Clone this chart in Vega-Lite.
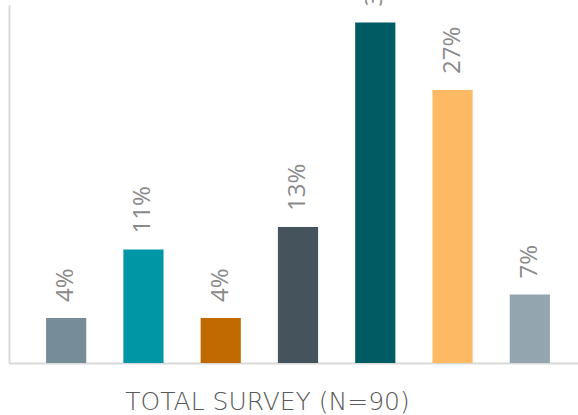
{
  "$schema": "https://vega.github.io/schema/vega-lite/v6.json",
  "width": 578,
  "height": 358,
  "autosize": {"type": "none"},
  "padding": {"left": 9, "top": 5, "right": 0, "bottom": 52},
  "background": "white",
  "config": {"view": {"stroke": null}},
  "data": {
    "values": [
      {"category": "Group 1", "share": 0.044, "color": "#778c99"},
      {"category": "Group 2", "share": 0.111, "color": "#0096a6"},
      {"category": "Group 3", "share": 0.044, "color": "#c06a00"},
      {"category": "Group 4", "share": 0.133, "color": "#44535c"},
      {"category": "Group 5", "share": 0.333, "color": "#015b63"},
      {"category": "Group 6", "share": 0.267, "color": "#fdb964"},
      {"category": "Group 7", "share": 0.067, "color": "#93a5ae"}
    ]
  },
  "encoding": {
    "x": {
      "field": "category",
      "type": "nominal",
      "sort": null,
      "scale": {"paddingInner": 0.48, "paddingOuter": 0.48},
      "axis": {
        "title": "TOTAL SURVEY (N=90)",
        "labels": false,
        "ticks": false,
        "domainColor": "#d9d9d9",
        "domainWidth": 2,
        "titleFont": "DejaVu Sans",
        "titleFontSize": 25,
        "titleFontWeight": 200,
        "titleColor": "#595959",
        "titleX": 258,
        "titleY": 46,
        "titleAlign": "center",
        "titleBaseline": "alphabetic"
      }
    },
    "y": {
      "field": "share",
      "type": "quantitative",
      "scale": {"domain": [0, 0.35], "nice": false},
      "axis": {
        "title": null,
        "labels": false,
        "ticks": false,
        "grid": false,
        "domainColor": "#d9d9d9",
        "domainWidth": 2
      }
    }
  },
  "layer": [
    {
      "mark": {"type": "bar"},
      "encoding": {
        "color": {"field": "color", "type": "nominal", "scale": null}
      }
    },
    {
      "mark": {
        "type": "text",
        "angle": 270,
        "align": "left",
        "baseline": "middle",
        "dx": 16,
        "font": "Open Sans",
        "fontSize": 24,
        "color": "#8a8a8a"
      },
      "encoding": {
        "text": {"field": "share", "type": "quantitative", "format": ".0%"}
      }
    }
  ]
}
